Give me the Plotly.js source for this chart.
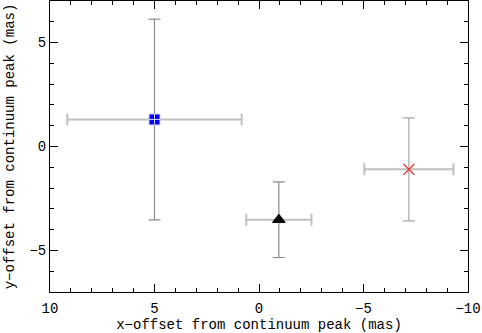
<!DOCTYPE html>
<html>
<head>
<meta charset="utf-8">
<script src="https://cdn.plot.ly/plotly-3.0.1.min.js"></script>
<style>
  body { margin: 0; background: #fff; }
  #plot { width: 482px; height: 333px; }
</style>
</head>
<body>
<div id="plot"></div>
<script>
// offsets from the continuum peak (mas)
var xOff = [5.0, -0.95, -7.17];
var yOff = [1.3, -3.52, -1.1];
var xErr = [4.17, 1.56, 2.13];
var yErr = [4.83, 1.82, 2.48];

var symbols = ["square-cross", "triangle-up", "x-thin-open"];
var colors = ["#0000ff", "#000000", "#ff2020"];
var lineCols = ["#d0d0ff", "#000000", "#ff2020"];
var sizes = [11, 11, 11];
var vColors = ["#8c8c8c", "#8c8c8c", "#a8a8a8"];

var data = [];
for (var i = 0; i < xOff.length; i++) {
  data.push({
    x: [xOff[i]],
    y: [yOff[i]],
    type: "scatter",
    mode: "markers",
    marker: { symbol: symbols[i], color: colors[i], size: sizes[i],
              line: { color: lineCols[i], width: i === 2 ? 1.3 : 1 } },
    error_x: { type: "data", array: [xErr[i]], color: "#c0c0c0", thickness: 2, width: 6 },
    error_y: { type: "data", array: [yErr[i]], color: vColors[i], thickness: 1.2, width: 6 },
    showlegend: false
  });
}

var axisFont = { family: "Liberation Mono, Courier New, monospace", size: 14, color: "#000" };
var tickFont = { family: "Liberation Mono, Courier New, monospace", size: 14, color: "#000" };

var layout = {
  margin: { l: 50, r: 14, t: 1, b: 41 },
  paper_bgcolor: "#fff",
  plot_bgcolor: "#fff",
  xaxis: {
    title: { text: "x\u2212offset from continuum peak (mas)", font: axisFont, standoff: 5 },
    range: [10, -10],
    tickvals: [10, 5, 0, -5, -10],
    ticks: "inside", ticklen: 8, tickcolor: "#000",
    ticklabelstandoff: 3,
    minor: { dtick: 1, ticks: "inside", ticklen: 4, tickcolor: "#000" },
    showline: true, linecolor: "#000", linewidth: 1, mirror: "ticks",
    showgrid: false, zeroline: false,
    tickfont: tickFont
  },
  yaxis: {
    title: { text: "y\u2212offset from continuum peak (mas)", font: axisFont, standoff: 11 },
    range: [-7, 7],
    tickvals: [-5, 0, 5],
    ticks: "inside", ticklen: 8, tickcolor: "#000",
    minor: { dtick: 1, ticks: "inside", ticklen: 4, tickcolor: "#000" },
    showline: true, linecolor: "#000", linewidth: 1, mirror: "ticks",
    showgrid: false, zeroline: false,
    tickfont: tickFont
  }
};

Plotly.newPlot("plot", data, layout, { displayModeBar: false, staticPlot: true });
</script>
</body>
</html>
